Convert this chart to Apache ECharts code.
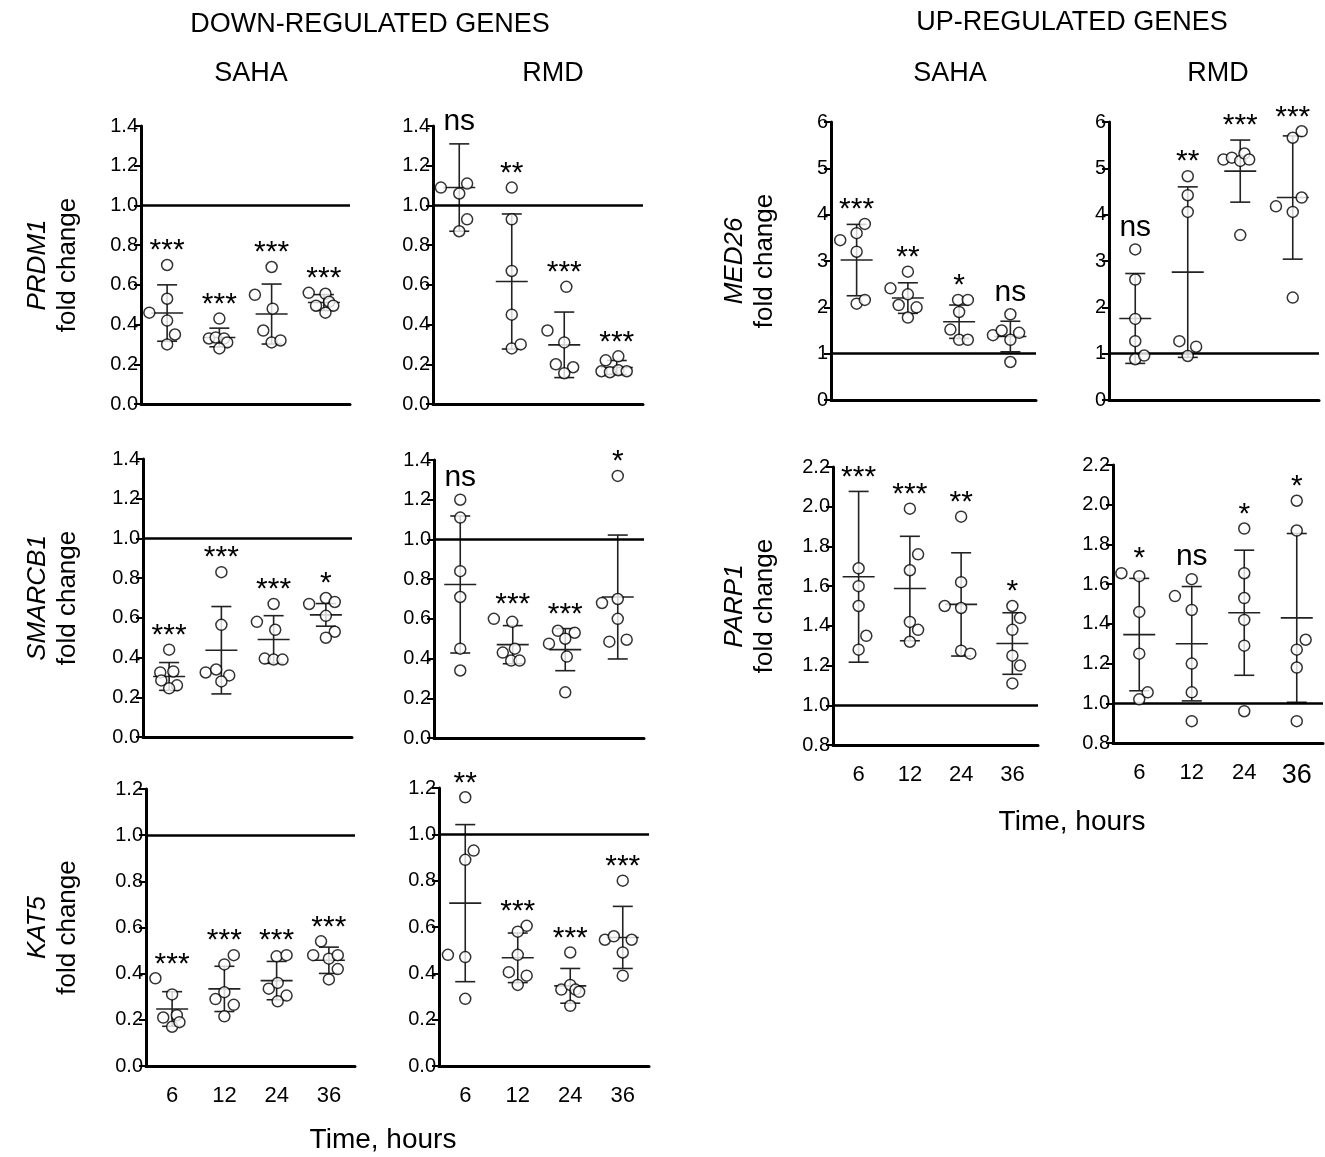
<!DOCTYPE html>
<html>
<head>
<meta charset="utf-8">
<script src="https://cdn.jsdelivr.net/npm/echarts@6/dist/echarts.min.js"></script>
<style>
  html, body { margin: 0; padding: 0; background: #fff; }
  #chart { width: 1325px; height: 1157px; }
</style>
</head>
<body>
<div id="chart"></div>
<script>
var hours = ['6', '12', '24', '36'];

// each dot is [horizontal jitter, fold change]; one list per time point
var prdm1Saha = [
  [[-0.34, 0.46], [0, 0.70], [0, 0.53], [0, 0.42], [0.15, 0.35], [0, 0.30]],
  [[0, 0.43], [-0.2, 0.33], [-0.07, 0.335], [0.09, 0.33], [0.15, 0.31], [0, 0.28]],
  [[-0.32, 0.55], [0, 0.69], [0.02, 0.48], [-0.16, 0.37], [0, 0.31], [0.17, 0.32]],
  [[-0.29, 0.56], [0.03, 0.555], [0.1, 0.515], [-0.15, 0.495], [0.18, 0.495], [0.03, 0.46]]
];
var prdm1SahaMean = [0.458, 0.335, 0.453, 0.511];
var prdm1SahaSd = [0.142, 0.047, 0.151, 0.04];
var prdm1SahaSig = ['***', '***', '***', '***'];

var prdm1Rmd = [
  [[-0.35, 1.09], [0.15, 1.11], [0, 1.06], [0.15, 0.93], [0, 0.87]],
  [[0, 1.09], [0, 0.93], [0, 0.67], [0, 0.45], [0, 0.28], [0.17, 0.30]],
  [[-0.32, 0.37], [0.04, 0.59], [0, 0.31], [-0.16, 0.20], [0.17, 0.185], [0, 0.155]],
  [[-0.21, 0.22], [0.03, 0.24], [-0.29, 0.165], [-0.13, 0.16], [0.03, 0.17], [0.19, 0.165]]
];
var prdm1RmdMean = [1.09, 0.617, 0.298, 0.184];
var prdm1RmdSd = [0.22, 0.34, 0.165, 0.035];
var prdm1RmdSig = ['ns', '**', '***', '***'];

var smarcb1Saha = [
  [[0, 0.44], [-0.17, 0.325], [0.08, 0.33], [-0.15, 0.285], [0.15, 0.26], [0, 0.245]],
  [[0, 0.83], [0, 0.565], [-0.3, 0.325], [-0.1, 0.34], [0.15, 0.31], [0, 0.28]],
  [[0, 0.67], [-0.32, 0.58], [0.03, 0.54], [-0.17, 0.395], [0, 0.39], [0.17, 0.39]],
  [[-0.32, 0.67], [0, 0.70], [0.17, 0.68], [0, 0.61], [0.17, 0.53], [0, 0.50]]
];
var smarcb1SahaMean = [0.305, 0.437, 0.491, 0.615];
var smarcb1SahaSd = [0.07, 0.22, 0.12, 0.057];
var smarcb1SahaSig = ['***', '***', '***', '*'];

var smarcb1Rmd = [
  [[0, 1.20], [0, 1.11], [0, 0.84], [0, 0.71], [0, 0.45], [0, 0.34]],
  [[-0.36, 0.60], [-0.01, 0.585], [-0.19, 0.43], [0.04, 0.45], [-0.03, 0.39], [0.13, 0.39]],
  [[-0.31, 0.475], [-0.14, 0.54], [0.18, 0.53], [0, 0.50], [0.03, 0.41], [0, 0.23]],
  [[0, 1.32], [-0.3, 0.68], [0, 0.70], [0, 0.60], [-0.16, 0.485], [0.17, 0.495]]
];
var smarcb1RmdMean = [0.773, 0.47, 0.445, 0.71];
var smarcb1RmdSd = [0.345, 0.096, 0.106, 0.312];
var smarcb1RmdSig = ['ns', '***', '***', '*'];

var kat5Saha = [
  [[-0.32, 0.38], [0, 0.31], [-0.17, 0.21], [0.09, 0.22], [0, 0.17], [0.14, 0.19]],
  [[0.18, 0.48], [0, 0.44], [0, 0.32], [-0.17, 0.29], [0.18, 0.265], [0, 0.215]],
  [[0, 0.475], [0.19, 0.48], [-0.15, 0.335], [0.02, 0.36], [0.19, 0.305], [0.02, 0.28]],
  [[-0.15, 0.54], [-0.3, 0.48], [0, 0.465], [0.17, 0.48], [0.17, 0.42], [0, 0.375]]
];
var kat5SahaMean = [0.247, 0.334, 0.37, 0.458];
var kat5SahaSd = [0.075, 0.098, 0.083, 0.057];
var kat5SahaSig = ['***', '***', '***', '***'];

var kat5Rmd = [
  [[0, 1.16], [0.16, 0.93], [0, 0.89], [-0.33, 0.48], [0, 0.47], [0, 0.29]],
  [[0.17, 0.605], [0, 0.58], [0, 0.48], [-0.17, 0.405], [0.17, 0.39], [0, 0.35]],
  [[0, 0.49], [-0.17, 0.33], [0, 0.35], [0.1, 0.33], [0.17, 0.32], [0, 0.26]],
  [[0, 0.80], [-0.34, 0.545], [-0.17, 0.56], [0.17, 0.545], [0, 0.49], [0, 0.39]]
];
var kat5RmdMean = [0.703, 0.467, 0.346, 0.555];
var kat5RmdSd = [0.339, 0.107, 0.075, 0.134];
var kat5RmdSig = ['**', '***', '***', '***'];

var med26Saha = [
  [[-0.32, 3.45], [0.16, 3.8], [0, 3.6], [0, 3.2], [0, 2.08], [0.16, 2.16]],
  [[0, 2.77], [-0.34, 2.41], [0, 2.28], [-0.18, 2.05], [0.17, 2.0], [0, 1.78]],
  [[-0.02, 2.16], [0.17, 2.16], [0, 1.9], [-0.17, 1.52], [0, 1.3], [0.17, 1.3]],
  [[0, 1.85], [-0.34, 1.4], [-0.17, 1.5], [0, 1.3], [0.17, 1.45], [0, 0.82]]
];
var med26SahaMean = [3.02, 2.2, 1.69, 1.37];
var med26SahaSd = [0.77, 0.33, 0.36, 0.33];
var med26SahaSig = ['***', '**', '*', 'ns'];

var med26Rmd = [
  [[0, 3.25], [0, 2.6], [0, 1.75], [0, 1.27], [0, 0.88], [0.17, 0.96]],
  [[0, 4.83], [0, 4.42], [0, 4.06], [-0.16, 1.27], [0.16, 1.15], [0, 0.95]],
  [[0, 3.56], [-0.32, 5.19], [-0.16, 5.23], [0, 5.16], [0.08, 5.32], [0.17, 5.19]],
  [[0, 2.21], [-0.32, 4.18], [0, 4.06], [0.17, 4.37], [0, 5.66], [0.17, 5.8]]
];
var med26RmdMean = [1.76, 2.76, 4.94, 4.37];
var med26RmdSd = [0.97, 1.84, 0.67, 1.33];
var med26RmdSig = ['ns', '**', '***', '***'];

var parp1Saha = [
  [[0, 1.69], [0, 1.60], [0, 1.50], [0.15, 1.35], [0, 1.28]],
  [[0, 1.99], [0.16, 1.76], [0, 1.68], [0, 1.42], [0.16, 1.38], [0, 1.32]],
  [[0, 1.95], [0, 1.62], [-0.32, 1.50], [0, 1.49], [0, 1.275], [0.18, 1.26]],
  [[0, 1.50], [0.15, 1.44], [0, 1.38], [0, 1.25], [0.15, 1.20], [0, 1.11]]
];
var parp1SahaMean = [1.647, 1.588, 1.508, 1.311];
var parp1SahaSd = [0.43, 0.263, 0.26, 0.155];
var parp1SahaSig = ['***', '***', '**', '*'];

var parp1Rmd = [
  [[-0.34, 1.655], [0, 1.64], [0, 1.46], [0, 1.25], [0.16, 1.055], [0, 1.02]],
  [[-0.32, 1.54], [0, 1.625], [0, 1.47], [0, 1.20], [0, 1.055], [0, 0.91]],
  [[0, 1.88], [0, 1.655], [0, 1.53], [0, 1.42], [0, 1.29], [0, 0.96]],
  [[0, 2.02], [0, 1.87], [0.17, 1.32], [0, 1.27], [0, 1.18], [0, 0.91]]
];
var parp1RmdMean = [1.346, 1.30, 1.456, 1.43];
var parp1RmdSd = [0.283, 0.288, 0.315, 0.425];
var parp1RmdSig = ['*', 'ns', '*', '*'];

var FONT = 'Liberation Sans, Arial, sans-serif';

// one entry per small plot
var panels = [
  { pts: prdm1Saha, mean: prdm1SahaMean, sd: prdm1SahaSd, sig: prdm1SahaSig, gene: 'PRDM1', gap: 58,
    grid: { left: 141, top: 126, width: 209, height: 278 }, y: [0, 1.4, 0.2, 1] },
  { pts: prdm1Rmd, mean: prdm1RmdMean, sd: prdm1RmdSd, sig: prdm1RmdSig,
    grid: { left: 433, top: 126, width: 210, height: 278 }, y: [0, 1.4, 0.2, 1] },
  { pts: smarcb1Saha, mean: smarcb1SahaMean, sd: smarcb1SahaSd, sig: smarcb1SahaSig, gene: 'SMARCB1', gap: 60,
    grid: { left: 143, top: 459, width: 209, height: 278 }, y: [0, 1.4, 0.2, 1] },
  { pts: smarcb1Rmd, mean: smarcb1RmdMean, sd: smarcb1RmdSd, sig: smarcb1RmdSig,
    grid: { left: 434, top: 460, width: 210, height: 278 }, y: [0, 1.4, 0.2, 1] },
  { pts: kat5Saha, mean: kat5SahaMean, sd: kat5SahaSd, sig: kat5SahaSig, gene: 'KAT5', gap: 63,
    grid: { left: 146, top: 789, width: 209, height: 277 }, y: [0, 1.2, 0.2, 1], xLabels: true },
  { pts: kat5Rmd, mean: kat5RmdMean, sd: kat5RmdSd, sig: kat5RmdSig,
    grid: { left: 439, top: 788, width: 210, height: 278 }, y: [0, 1.2, 0.2, 1], xLabels: true },
  { pts: med26Saha, mean: med26SahaMean, sd: med26SahaSd, sig: med26SahaSig, gene: 'MED26', gap: 51,
    grid: { left: 831, top: 122, width: 205, height: 278 }, y: [0, 6, 1, 0] },
  { pts: med26Rmd, mean: med26RmdMean, sd: med26RmdSd, sig: med26RmdSig,
    grid: { left: 1109, top: 122, width: 210, height: 278 }, y: [0, 6, 1, 0] },
  { pts: parp1Saha, mean: parp1SahaMean, sd: parp1SahaSd, sig: parp1SahaSig, gene: 'PARP1', gap: 53,
    grid: { left: 833, top: 467, width: 205, height: 278 }, y: [0.8, 2.2, 0.2, 1], xLabels: true },
  { pts: parp1Rmd, mean: parp1RmdMean, sd: parp1RmdSd, sig: parp1RmdSig,
    grid: { left: 1113, top: 465, width: 210, height: 278 }, y: [0.8, 2.2, 0.2, 1], xLabels: true, bigLast: true }
];

function meanSdItem(p) {
  return function (params, api) {
    var k = params.dataIndex;
    var x = api.value(0), m = api.value(1), s = api.value(2);
    var c = api.coord([x, m]);
    var hi = api.coord([x, m + s]);
    var lo = api.coord([x, m - s]);
    var topVal = m + s;
    p.pts[k].forEach(function (d) { if (d[1] > topVal) topVal = d[1]; });
    var top = api.coord([x, topVal]);
    var ls = { stroke: '#222', lineWidth: 1.6 };
    var sig = p.sig[k];
    return {
      type: 'group',
      children: [
        { type: 'line', shape: { x1: c[0], y1: hi[1], x2: c[0], y2: lo[1] }, style: ls },
        { type: 'line', shape: { x1: c[0] - 10, y1: hi[1], x2: c[0] + 10, y2: hi[1] }, style: ls },
        { type: 'line', shape: { x1: c[0] - 10, y1: lo[1], x2: c[0] + 10, y2: lo[1] }, style: ls },
        { type: 'line', shape: { x1: c[0] - 16, y1: c[1], x2: c[0] + 16, y2: c[1] }, style: ls },
        { type: 'text', x: c[0], y: top[1] - (sig === 'ns' ? 22 : 14),
          style: { text: sig, fontSize: 30, fontFamily: FONT, align: 'center', verticalAlign: 'middle', fill: '#000' } }
      ]
    };
  };
}

var grids = [], xAxes = [], yAxes = [], series = [];

panels.forEach(function (p, i) {
  grids.push(p.grid);

  xAxes.push({
    type: 'category', gridIndex: i, data: hours,
    axisLine: { lineStyle: { color: '#000', width: 3 } },
    axisTick: { show: false },
    axisLabel: {
      show: !!p.xLabels, interval: 0, color: '#000', fontSize: 22, fontFamily: FONT, margin: 19,
      formatter: function (v) { return (p.bigLast && v === '36') ? '{big|' + v + '}' : v; },
      rich: { big: { fontSize: 27, fontFamily: FONT, color: '#000' } }
    }
  });
  xAxes.push({ type: 'value', gridIndex: i, min: 0.5, max: 4.5, show: false });

  var dec = p.y[3];
  yAxes.push({
    type: 'value', gridIndex: i, min: p.y[0], max: p.y[1], interval: p.y[2],
    axisLine: { show: true, lineStyle: { color: '#000', width: 3 } },
    axisTick: { show: true, length: 7, lineStyle: { color: '#000', width: 2 } },
    splitLine: { show: false },
    axisLabel: { color: '#000', fontSize: 20, fontFamily: FONT, margin: 3,
      formatter: function (v) { return v.toFixed(dec); } },
    name: p.gene ? '{g|' + p.gene + '}\n{f|fold change}' : '',
    nameLocation: 'middle', nameRotate: 90, nameGap: p.gap || 0,
    nameTextStyle: {
      rich: {
        g: { fontStyle: 'italic', fontSize: 26, lineHeight: 30, fontFamily: FONT, color: '#000' },
        f: { fontSize: 26, lineHeight: 30, fontFamily: FONT, color: '#000' }
      }
    }
  });

  var dots = [];
  p.pts.forEach(function (list, k) {
    list.forEach(function (d) { dots.push([k + 1 + d[0], d[1]]); });
  });
  series.push({
    type: 'scatter', xAxisIndex: 2 * i + 1, yAxisIndex: i, data: dots,
    symbol: 'circle', symbolSize: 11, z: 5,
    itemStyle: { color: '#fff', borderColor: '#000', borderWidth: 1.5 },
    markLine: {
      silent: true, symbol: ['none', 'none'], label: { show: false },
      lineStyle: { color: '#000', width: 2.5, type: 'solid' },
      data: [{ yAxis: 1 }]
    }
  });

  series.push({
    type: 'custom', xAxisIndex: 2 * i + 1, yAxisIndex: i, z: 3,
    data: p.mean.map(function (m, k) { return [k + 1, m, p.sd[k]]; }),
    renderItem: meanSdItem(p)
  });
});

function label(text, x, y, size) {
  return { type: 'text', x: x, y: y,
    style: { text: text, fontSize: size, fontFamily: FONT, fill: '#000', align: 'center', verticalAlign: 'middle' } };
}

var chart = echarts.init(document.getElementById('chart'));
chart.setOption({
  animation: false,
  backgroundColor: '#fff',
  grid: grids,
  xAxis: xAxes,
  yAxis: yAxes,
  series: series,
  graphic: [
    label('DOWN-REGULATED GENES', 370, 25, 27),
    label('SAHA', 251, 74, 27),
    label('RMD', 553, 74, 27),
    label('UP-REGULATED GENES', 1072, 23, 27),
    label('SAHA', 950, 74, 27),
    label('RMD', 1218, 74, 27),
    label('Time, hours', 383, 1140, 28),
    label('Time, hours', 1072, 822, 28)
  ]
});
</script>
</body>
</html>
